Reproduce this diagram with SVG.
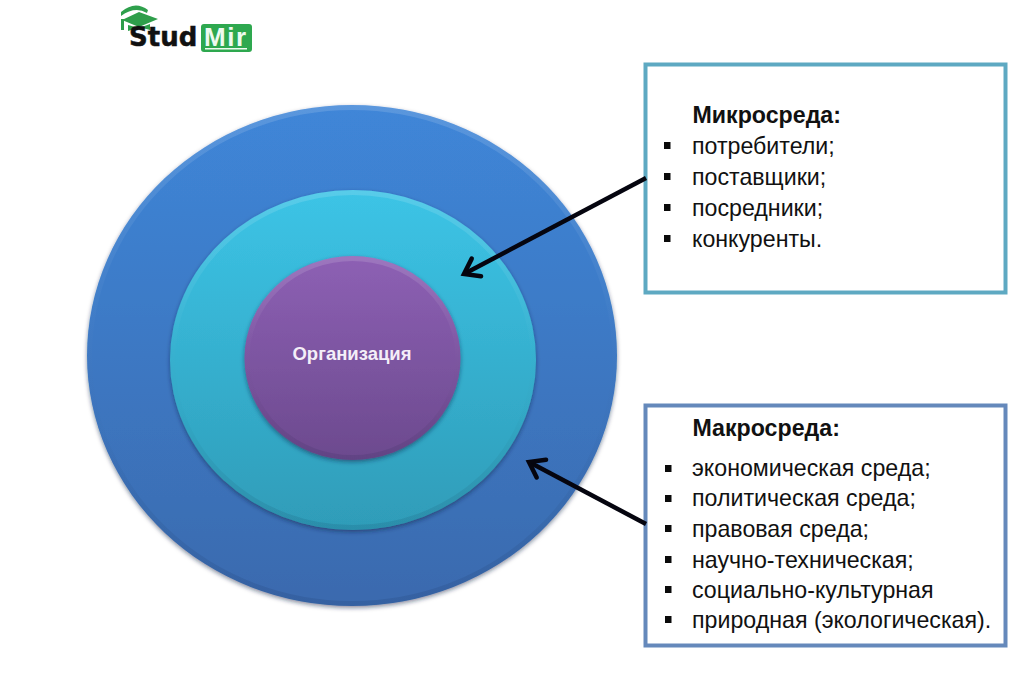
<svg xmlns="http://www.w3.org/2000/svg" width="1024" height="674" viewBox="0 0 1024 674">
<style>
text{font-family:"Liberation Sans",Arial,sans-serif}
.t{font-size:23.2px;fill:#111}
.h{font-size:23.2px;font-weight:bold;fill:#111}
.b{fill:#0a0a0a}
.box{fill:#fff;stroke-width:4}
.conn{stroke:#05050f;stroke-width:4.5;fill:none;marker-end:url(#arr)}
.rim{fill:none;stroke:url(#rim);stroke-width:5}
</style>
<defs>
<marker id="arr" markerUnits="userSpaceOnUse" markerWidth="30" markerHeight="30" refX="21" refY="15" orient="auto" viewBox="0 0 30 30">
<path d="M7 5L21 15L7 25" fill="none" stroke="#05050f" stroke-width="4.5" stroke-linecap="round"/>
</marker>
<linearGradient id="g1" x1="0" y1="0" x2="0" y2="1"><stop offset="0" stop-color="#3f86d8"/><stop offset="1" stop-color="#3a6aae"/></linearGradient>
<linearGradient id="g2" x1="0" y1="0" x2="0" y2="1"><stop offset="0" stop-color="#3cc4e6"/><stop offset="1" stop-color="#2f9cb8"/></linearGradient>
<linearGradient id="g3" x1="0" y1="0" x2="0" y2="1"><stop offset="0" stop-color="#8d60b4"/><stop offset="1" stop-color="#6c4a8e"/></linearGradient>
<linearGradient id="rim" x1="0" y1="0" x2="0" y2="1"><stop offset="0" stop-color="#fff" stop-opacity=".14"/><stop offset=".4" stop-color="#fff" stop-opacity=".02"/><stop offset=".65" stop-color="#000" stop-opacity=".01"/><stop offset="1" stop-color="#001030" stop-opacity=".1"/></linearGradient>
<filter id="sh" x="-5%" y="-5%" width="110%" height="110%"><feDropShadow dx="0" dy="2" stdDeviation="2" flood-color="#0a2040" flood-opacity=".5"/></filter>
</defs>
<rect width="1024" height="674" fill="#fff"/>
<g id="logo">
<path d="M121 12Q135 0 148 10L147 13Q135 6 121 16Z" fill="#2ea04c"/>
<path d="M122 20L139 12L158 19L139 27Z" fill="#2e9e4a"/>
<path d="M128 25L128 31Q140 26 150 30L150 24L139 28Z" fill="#2e9e4a"/>
<rect x="121" y="19" width="3" height="11" fill="#2e9e4a"/>
<text x="129" y="45.500" font-size="26" font-weight="bold" fill="#111" stroke="#111" stroke-width=".5" style="font-family:'DejaVu Sans',sans-serif">Stud</text>
<rect x="201" y="24" width="51" height="28" rx="3" fill="#2ea84f"/>
<text x="204" y="46" font-size="26" fill="#eefaf0" letter-spacing="1.500" font-weight="bold">Mir</text>
<rect x="205" y="48" width="42" height="1.500" fill="#eefaf0"/>
</g>
<g id="macro-circle"><ellipse cx="352" cy="355.500" rx="265" ry="250.500" fill="url(#g1)" filter="url(#sh)"/><ellipse class="rim" cx="352" cy="355.500" rx="262.500" ry="248"/></g>
<g id="micro-circle"><ellipse cx="353" cy="360" rx="183" ry="170" fill="url(#g2)" filter="url(#sh)"/><ellipse class="rim" cx="353" cy="360" rx="180.500" ry="167.500"/></g>
<g id="org"><ellipse cx="352.500" cy="358" rx="108" ry="102" fill="url(#g3)" filter="url(#sh)"/><ellipse class="rim" cx="352.500" cy="358" rx="105.500" ry="99.500"/>
<text x="352" y="359.500" font-size="18.500" font-weight="bold" fill="#f4eef8" text-anchor="middle">Организация</text></g>
<g id="micro-box">
<rect class="box" x="645.500" y="64.500" width="360" height="228" stroke="#5ea9c2"/>
<text class="h" x="692.500" y="123">Микросреда:</text>
<text class="t" x="692" y="154">потребители;</text><text class="t" x="692" y="185">поставщики;</text><text class="t" x="692" y="216">посредники;</text><text class="t" x="692" y="246.500">конкуренты.</text>
<rect class="b" x="664" y="142" width="6.500" height="7"/><rect class="b" x="664" y="173" width="6.500" height="7"/><rect class="b" x="664" y="204" width="6.500" height="7"/><rect class="b" x="664" y="235" width="6.500" height="7"/>
</g>
<g id="macro-box">
<rect class="box" x="645.500" y="405.500" width="360" height="240" stroke="#6589bb"/>
<text class="h" x="692.500" y="436">Макросреда:</text>
<text class="t" x="692" y="476">экономическая среда;</text><text class="t" x="692" y="506">политическая среда;</text><text class="t" x="692" y="537">правовая среда;</text><text class="t" x="692" y="568">научно-техническая;</text><text class="t" x="692" y="598">социально-культурная</text><text class="t" x="692" y="628">природная (экологическая).</text>
<rect class="b" x="665" y="465" width="6.500" height="7"/><rect class="b" x="665" y="495" width="6.500" height="7"/><rect class="b" x="665" y="525" width="6.500" height="7"/><rect class="b" x="665" y="556" width="6.500" height="7"/><rect class="b" x="665" y="586" width="6.500" height="7"/><rect class="b" x="665" y="616" width="6.500" height="7"/>
</g>
<g id="connectors">
<line class="conn" x1="646" y1="178" x2="464" y2="274"/>
<line class="conn" x1="646" y1="524" x2="529" y2="462"/>
</g>
</svg>
